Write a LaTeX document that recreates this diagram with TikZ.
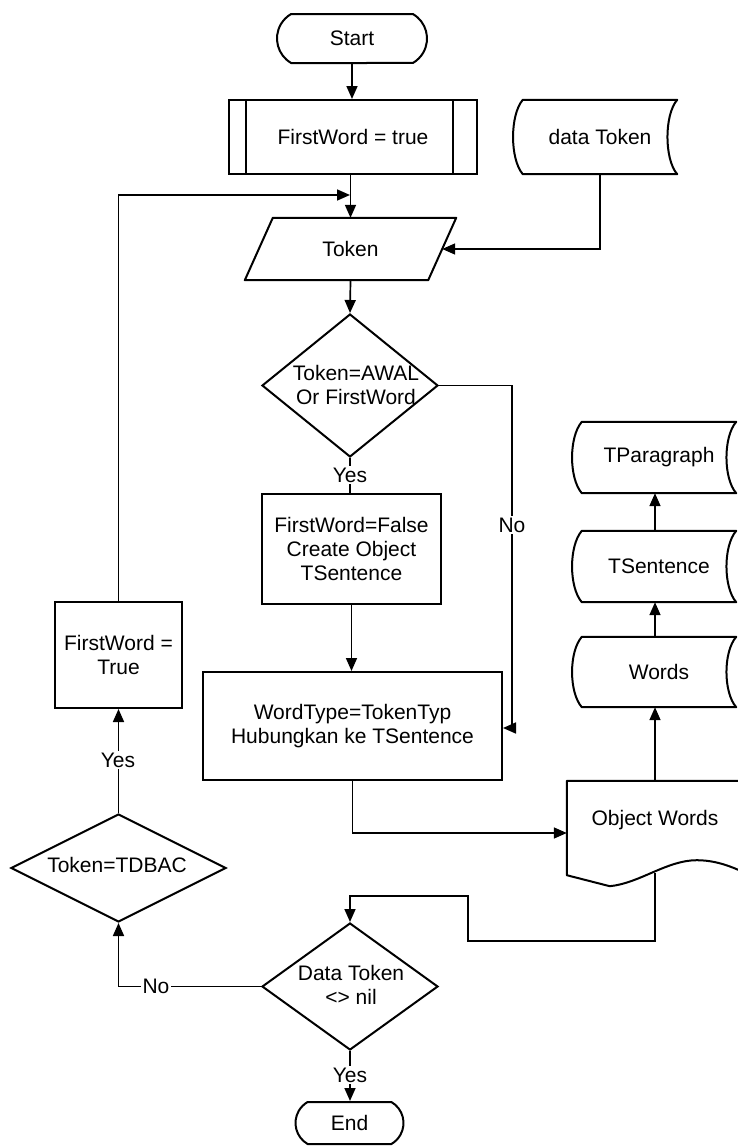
\documentclass[tikz,border=0pt]{standalone}
\usepackage{fontspec}
\setmainfont{Liberation Sans}
\usetikzlibrary{shapes.geometric,shapes.misc,arrows.meta,calc}
\begin{document}
\begin{tikzpicture}[x=1pt,y=-1pt,
  font=\fontsize{21}{24}\selectfont,
  outline/.style={line width=2pt, line join=round},
  plain/.style={draw=none, inner sep=0pt, align=center},
  box/.style={draw, line width=2pt, inner sep=0pt, align=center},
  terminal/.style={draw, line width=2pt, rounded rectangle, rounded rectangle arc length=120, inner sep=0pt},
  decision/.style={draw, line width=2pt, diamond, inner sep=0pt},
  txt/.style={inner sep=0pt, align=center},
  conn/.style={line width=1.7pt},
  arr/.style={conn, -{Triangle[length=13pt,width=11pt]}},
  lbl/.style={fill=white, inner sep=1.5pt},
]
\useasboundingbox[fill=white] (0,0) rectangle (737,1146);

% ---------- main column ----------
\node[terminal, minimum width=150pt, minimum height=49pt] (start) at (352,38.5) {Start};
\node[box, minimum width=248pt, minimum height=74pt] (b1) at (353,137) {FirstWord = true};
\draw[outline] ($(b1.north west)+(18,0)$) -- ($(b1.south west)+(18,0)$);
\draw[outline] ($(b1.north east)+(-25,0)$) -- ($(b1.south east)+(-25,0)$);

\node[plain, minimum width=211pt, minimum height=62pt] (tok) at (350.5,249) {Token};
\draw[outline] ($(tok.north west)+(28,0)$) -- (tok.north east) -- ($(tok.south east)+(-28,0)$) -- (tok.south west) -- cycle;
\coordinate (tokR) at ($(tok.east)+(-14,0)$);

\node[decision, minimum width=176pt, minimum height=143pt] (d1) at (350,385.5) {};
\node[txt] (d1t) at (356,385) {Token=AWAL\\Or FirstWord};

\node[box, minimum width=179pt, minimum height=110pt] (b2) at (351.5,549) {FirstWord=False\\Create Object\\TSentence};
\node[box, minimum width=299pt, minimum height=108pt] (b3) at (352.5,726) {WordType=TokenTyp\\Hubungkan ke TSentence};

\node[decision, minimum width=176pt, minimum height=127pt] (d2) at (350,986.5) {};
\node[txt] (d2t) at (351,985) {Data Token\\<> nil};
\node[terminal, minimum width=108pt, minimum height=42pt] (end) at (349.5,1123) {End};

% ---------- left column ----------
\node[decision, minimum width=215pt, minimum height=108pt] (d3) at (118.5,868) {};
\node[txt] (d3t) at (117,865) {Token=TDBAC};
\node[box, minimum width=127pt, minimum height=106pt] (b4) at (118.5,655) {FirstWord =\\True};
\coordinate (merge) at (350,195);

% ---------- data stores ----------
\newcommand\storedoutline[1]{%
  \draw[outline] (#1.north west) .. controls +(-13,15) and +(-13,-15) .. (#1.south west)
    -- (#1.south east) .. controls +(-13,-15) and +(-13,15) .. (#1.north east) -- cycle;}
\node[plain, minimum width=154pt, minimum height=74pt] (dt) at (600,137) {data Token};
\storedoutline{dt}
\node[plain, minimum width=154pt, minimum height=71pt] (tpar) at (659,457.5) {TParagraph};
\storedoutline{tpar}
\node[plain, minimum width=154pt, minimum height=71pt] (tsen) at (659,566.5) {TSentence};
\storedoutline{tsen}
\node[plain, minimum width=154pt, minimum height=70pt] (words) at (659,672) {Words};
\storedoutline{words}

% document shape with a wavy lower edge
\node[plain, minimum width=176pt, minimum height=78pt] (ow) at (655,820) {Object Words};
\draw[outline] ($(ow.north east)+(20,0)$) -- (ow.north west) -- ($(ow.south west)+(0,16)$)
  -- ($(ow.south west)+(43,27)$) .. controls +(30,-3) and +(-30,0) .. ($(ow.south west)+(130,1)$)
  .. controls +(25,0) and +(-20,-10) .. ($(ow.south west)+(195,22)$);
\coordinate (owbot) at (655,873);

% ---------- connectors ----------
\draw[arr] (start.south) -- (start.south |- b1.north);
\draw[arr] (tok.north |- b1.south) -- (tok.north);
\draw[arr] (b4.north) |- (merge);
\draw[arr] (dt.south) |- (tokR);
\draw[arr] (tok.south) -- (d1.north);

\draw[conn] (d1.south) -- (d1.south |- b2.north);
\node[lbl] (yes1) at (350,475) {Yes};

\coordinate (nobend) at (512,728);
\draw[arr] (d1.east) -| (nobend) -- (nobend -| b3.east);
\node[lbl] (no1) at (512,525) {No};

\draw[arr] (b2.south) -- (b2.south |- b3.north);
\draw[arr] (b3.south) |- ($(ow.west)+(0,13)$);

\draw[arr] (ow.north) -- (ow.north |- words.south);
\draw[arr] (ow.north |- words.north) -- (ow.north |- tsen.south);
\draw[arr] (ow.north |- tsen.north) -- (ow.north |- tpar.south);

\coordinate (loopA) at (468,941);
\coordinate (loopB) at (468,896);
\draw[arr] (owbot) |- (loopA) -- (loopB) -| (d2.north);

\draw[arr] (d2.south) -- (d2.south |- end.north);
\node[lbl] (yes2) at (350,1075) {Yes};

\draw[arr] (d2.west) -| (d3.south);
\node[lbl] (no2) at (156,986) {No};

\draw[arr] (d3.north) -- (b4.south);
\node[lbl] (yes3) at (118,760) {Yes};
\end{tikzpicture}
\end{document}
